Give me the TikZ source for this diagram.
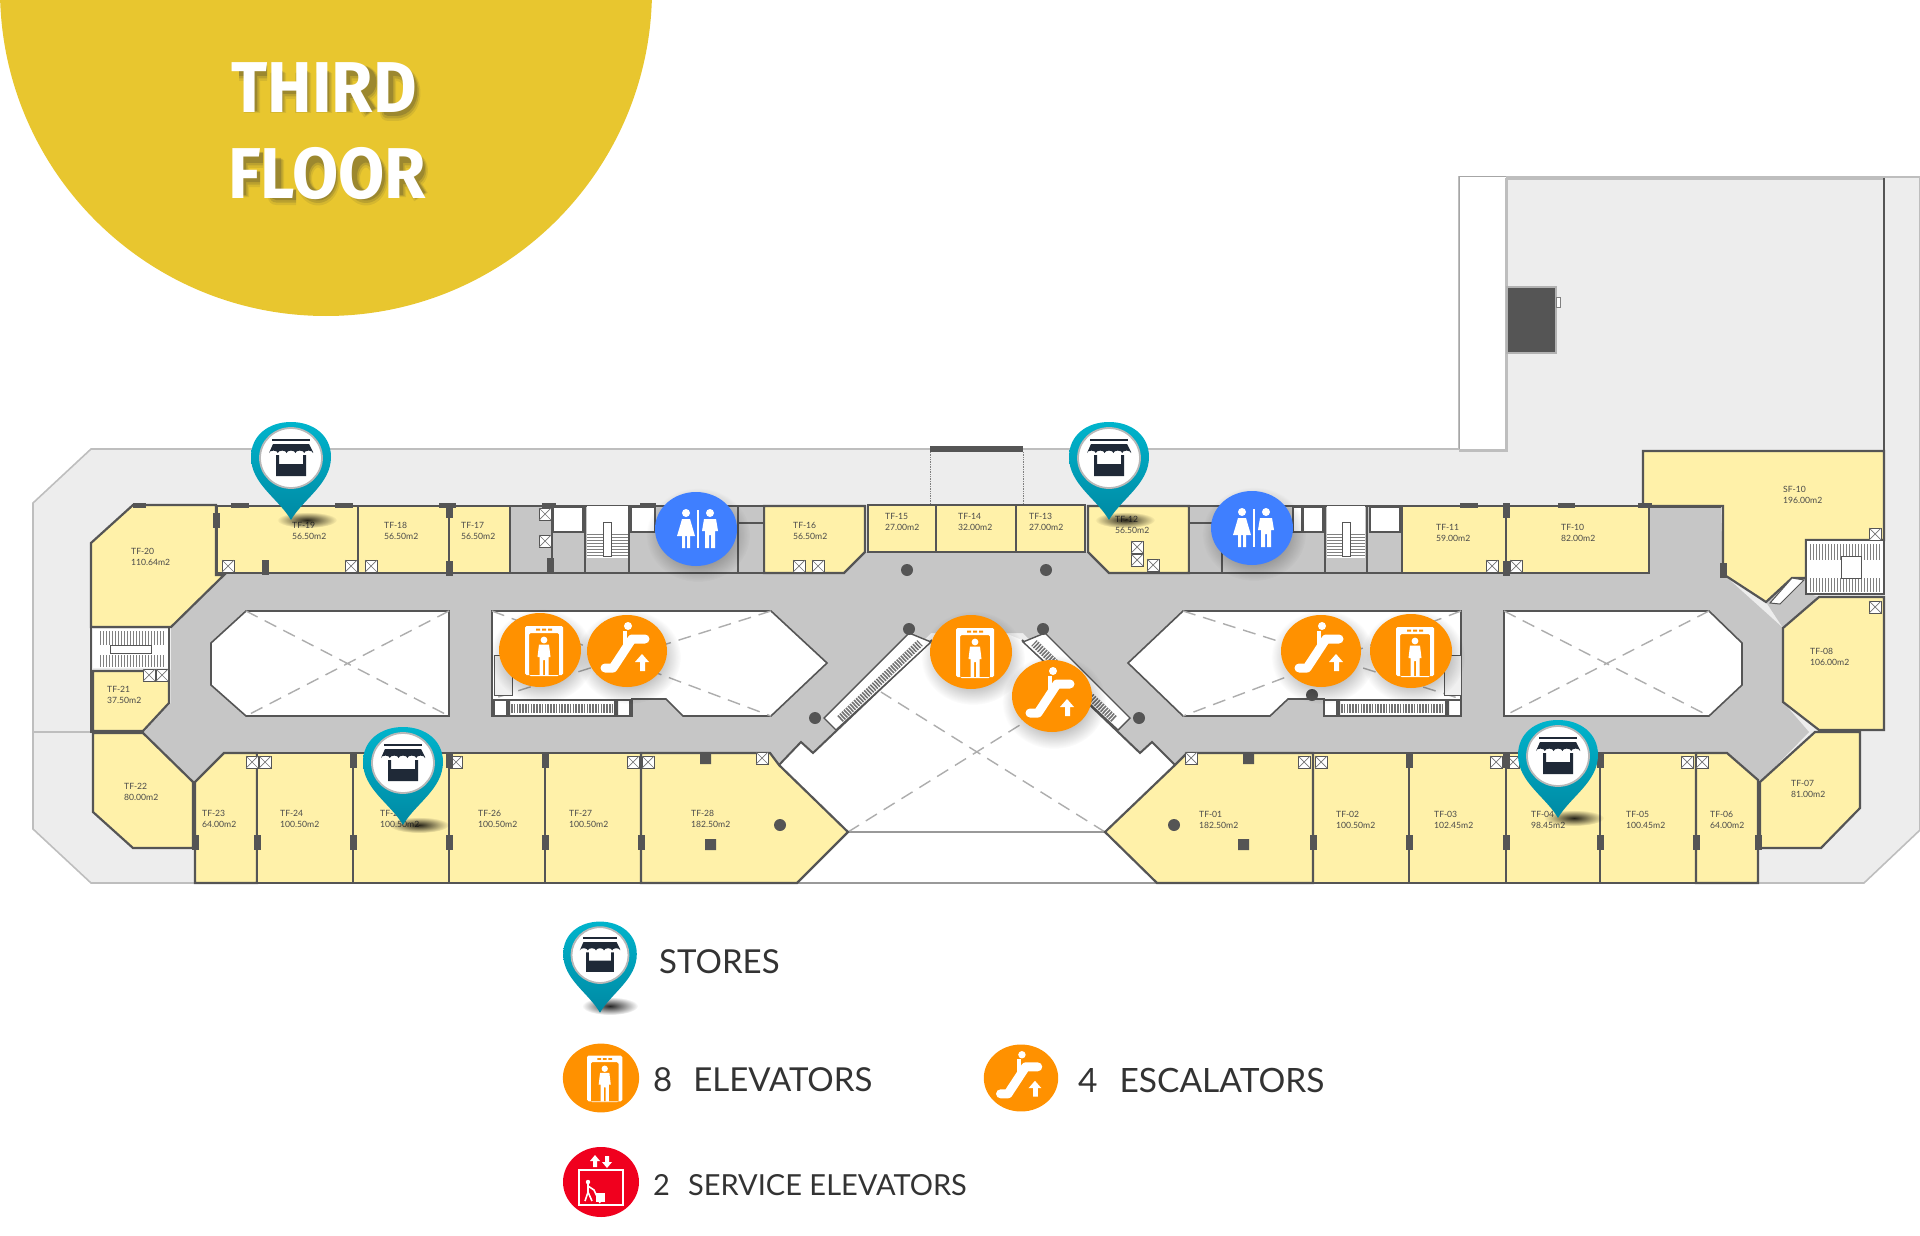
\documentclass[tikz,border=0pt]{standalone}
\usepackage{fontspec}
\setmainfont{Lato}
\newfontfamily\titlefont{Fira Sans}
\usetikzlibrary{calc, fadings}
\tikzfading[name=softfade, inner color=transparent!0, outer color=transparent!100]
\definecolor{plategrey}{HTML}{EDEDED}
\definecolor{plateline}{HTML}{BEBEBE}
\definecolor{mallgrey}{HTML}{C6C6C6}
\definecolor{wallgrey}{HTML}{555555}
\definecolor{shopyellow}{HTML}{FFF1A9}
\definecolor{discyellow}{HTML}{E8C62F}
\definecolor{iconorange}{HTML}{FF9100}
\definecolor{iconblue}{HTML}{3F7FFF}
\definecolor{iconred}{HTML}{F0001E}
\definecolor{pinteal}{HTML}{00B4CC}
\definecolor{pindeep}{HTML}{0089A3}
\definecolor{shopnavy}{HTML}{1F2937}
\definecolor{labelgrey}{HTML}{4A4A4A}
\definecolor{legendgrey}{HTML}{333333}
\tikzset{
  shop/.style={fill=shopyellow, draw=wallgrey, line width=2.2pt, line join=miter},
  mall/.style={fill=mallgrey},
  void/.style={fill=white, draw=wallgrey, line width=1.6pt},
  wall/.style={draw=wallgrey, line width=2pt},
  slab/.style={draw=black!32, line width=1.4pt, dash pattern=on 13pt off 8pt},
  roomlabel/.style={anchor=west, align=left, inner sep=0pt, text=labelgrey,
    font=\fontsize{8.6}{10.6}\selectfont},
  legendtext/.style={anchor=west, inner sep=0pt, text=legendgrey},
  titletext/.style={font=\titlefont\bfseries\fontsize{72}{72}\selectfont, text=white, inner sep=0pt,
    xscale=.93, transform shape},
  titleshade/.style={draw=black!80, line join=round, fill=none},
  softshadow/.style={black, opacity=.62, path fading=softfade},
  pics/shaftbox/.style={code={
    \draw[fill=white, draw=wallgrey, line width=1pt] (-6,-6) rectangle (6,6);
    \draw[black!55, line width=.7pt] (-6,-6) -- (6,6) (6,-6) -- (-6,6);
  }},
  pics/storepin/.style={code={
    \shade[top color=pinteal, bottom color=pindeep]
      (0,61) .. controls (-12,40) and (-40,25) .. (-40,-2)
      .. controls (-40,-24) and (-22,-37) .. (0,-37)
      .. controls (22,-37) and (40,-24) .. (40,-2)
      .. controls (40,25) and (12,40) .. (0,61) -- cycle;
    \fill[white, draw=black!28, line width=1.8pt] (0,-1) ellipse (31pt and 30pt);
    % awning and stall of the shop
    \fill[shopnavy] (-19,-20) rectangle (19,-18);
    \fill[shopnavy] (-18,-15) -- (18,-15) -- (22,-7) -- (22,-6)
      arc[start angle=0, end angle=180, x radius=4.4pt, y radius=2.4pt]
      arc[start angle=0, end angle=180, x radius=4.4pt, y radius=2.4pt]
      arc[start angle=0, end angle=180, x radius=4.4pt, y radius=2.4pt]
      arc[start angle=0, end angle=180, x radius=4.4pt, y radius=2.4pt]
      arc[start angle=0, end angle=180, x radius=4.4pt, y radius=2.4pt] -- cycle;
    \fill[shopnavy] (-15,-4) rectangle (-12,6) (12,-4) rectangle (15,6) (-15,5) rectangle (15,17);
  }},
  pics/gateicon/.style={code={
    \fill[iconorange] (0,0) ellipse (41pt and 37pt);
    \fill[white, even odd rule] [rounded corners=1.5pt] (-15,-24) rectangle (23,25) (-11,-17) rectangle (19,26);
    \fill[iconorange] (-4,-21.5) rectangle (0,-19.5) (2,-21.5) rectangle (6,-19.5) (8,-21.5) rectangle (12,-19.5);
    \fill[white] (4,-10) circle (3.4pt);
    \fill[white] (-1,-5.5) -- (9,-5.5) -- (10.5,7) -- (8.5,7) -- (8.5,25) -- (5,25) -- (5,10)
      -- (3,10) -- (3,25) -- (-.5,25) -- (-.5,7) -- (-2.5,7) -- cycle;
  }},
  pics/stairicon/.style={code={
    \fill[iconorange] (0,0) ellipse (40pt and 36pt);
    \draw[white, line width=9pt, line cap=round, line join=round] (-22,17) -- (-14,17) -- (5,-12) -- (18,-12);
    \draw[white, line width=4.5pt] (-2,-20) -- (-2,-4);
    \fill[white] (1,-25) circle (4pt);
    \fill[white] (15,3) -- (22,11) -- (18,11) -- (18,20) -- (13,20) -- (13,11) -- (8,11) -- cycle;
  }},
  pics/toileticon/.style={code={
    \fill[iconblue] (0,0) ellipse (41pt and 37pt);
    \fill[white] (0.8,-19) rectangle (3.2,19);
    % woman and man
    \fill[white] (-10,-16) circle (4pt) (14,-16) circle (4pt);
    \fill[white] (-14,-10) -- (-6,-10) -- (-4,-3) -- (-1,7) -- (-19,7) -- (-16,-3) -- cycle;
    \fill[white] (-14,7) rectangle (-11,19) (-9,7) rectangle (-6,19);
    \fill[white] (8,-10) -- (20,-10) -- (22,2) -- (19,2) -- (19,19) -- (15,19) -- (15,6) -- (13,6)
      -- (13,19) -- (9,19) -- (9,2) -- (6,2) -- cycle;
  }},
  pics/serviceicon/.style={code={
    \fill[iconred] (0,0) ellipse (38pt and 35pt);
    \draw[white, line width=1.3pt] (-22,-12) rectangle (22,23);
    \fill[white] (-6,-27) -- (-1,-21) -- (-4,-21) -- (-4,-15) -- (-8,-15) -- (-8,-21) -- (-11,-21) -- cycle;
    \fill[white] (6,-14) -- (1,-20) -- (4,-20) -- (4,-26) -- (8,-26) -- (8,-20) -- (11,-20) -- cycle;
    \fill[white] (-13,0) circle (2.2pt);
    \draw[white, line width=1.6pt] (-13,2) -- (-13,10) -- (-16,19) (-13,10) -- (-9,19) (-13,4) -- (-7,8) -- (-1,21);
    \fill[white] (-5,11) rectangle (4,20);
  }},
}
\begin{document}
\begin{tikzpicture}[x=1pt, y=-1pt]
    \useasboundingbox (0,0) rectangle (1920,1236);
    \clip (0,0) rectangle (1920,1236);
    \fill[discyellow] (326,-10) circle (326pt);
    % shadow of the title, stroked letter by letter
    \foreach \wd/\op/\dx/\dy in {16/.10/3/5, 13/.16/3/4, 10/.22/3/3} {
      \draw[titleshade, line width=\wd pt, opacity=\op, shift={(\dx,\dy)}]
        (236,68) -- (264,68) (249,68) -- (249,108)
        (275,68) -- (275,108) (300,68) -- (300,108) (275,86) -- (300,86)
        (321,68) -- (321,108)
        (342,108) -- (342,68) -- (358,68) .. controls (372,68) and (372,90) .. (358,90) -- (342,90) (356,90) -- (368,108)
        (385,108) -- (385,68) -- (393,68) .. controls (415,68) and (415,108) .. (393,108) -- cycle
        (238,192) -- (238,155) -- (260,155) (238,174) -- (257,174)
        (273,155) -- (273,192) -- (293,192)
        (315,173.5) ellipse (14pt and 19pt) (363,173.5) ellipse (14pt and 19pt)
        (395,192) -- (395,155) -- (408,155) .. controls (420,155) and (420,176) .. (408,176) -- (395,176) (408,176) -- (418,192);
    }
    \node[titletext] (third) at (324,88) {THIRD};
    \node[titletext] (floor) at (327,174) {FLOOR};

    % plate of the whole floor
    \draw[fill=plategrey, draw=plateline, line width=1.6pt] (33,503) -- (91,449) -- (1459,449) -- (1459,177)
      -- (1920,177) -- (1920,830) -- (1864,883) -- (91,883) -- (33,829) -- cycle;
    \draw[fill=white, draw=black!35, line width=1pt] (1459,177) rectangle (1506,450);
    \draw[plateline, line width=3pt] (1506,178) -- (1506,450) -- (1459,450);
    \draw[plateline, line width=3pt] (1506,178) -- (1884,178);
    \draw[plateline, line width=1.6pt] (33,732) -- (91,732);
    \draw[fill=wallgrey, draw=black!30, line width=1.4pt] (1507,287) rectangle (1556,353);
    \draw[fill=white, draw=black!50, line width=.8pt] (1556,297) rectangle (1560,307);
    \draw[wall, line width=2.6pt] (1884,178) -- (1884,450);
    % entrance
    \fill[wallgrey] (930,446) rectangle (1023,452);
    \draw[black!50, densely dotted, line width=.7pt] (930,452) -- (930,505) (1023,452) -- (1023,505);

    % mall corridor
    \fill[mall] (227,573) -- (844,573) -- (866,552) -- (1086,552) -- (1109,573) -- (1649,573) -- (1649,507)
      -- (1721,507) -- (1723,574) -- (1783,628) -- (1783,702) -- (1809,732) -- (1760,782) -- (1727,753)
      -- (1187,753) -- (1175,765) -- (1152,742) -- (1140,753) -- (1023,633) -- (931,633) -- (813,753)
      -- (801,742) -- (779,765) -- (770,753) -- (224,753) -- (193,782) -- (143,733) -- (171,703)
      -- (171,627) -- cycle;
    \fill[mall] (1766,602) -- (1792,578) -- (1806,578) -- (1806,593) -- (1819,597) -- (1783,628) -- cycle;
    \draw[wall] (1649,573) -- (1649,507) -- (1721,507);

    % atria
    \draw[void] (246,611) -- (449,611) -- (449,716) -- (246,716) -- (211,685) -- (211,643) -- cycle;
    \draw[void] (492,611) -- (771,611) -- (827,663) -- (771,716) -- (683,716) -- (666,699) -- (632,699)
      -- (632,716) -- (492,716) -- cycle;
    \draw[void] (1183,611) -- (1461,611) -- (1461,716) -- (1324,716) -- (1324,699) -- (1288,699) -- (1270,716)
      -- (1183,716) -- (1128,663) -- cycle;
    \draw[void] (1504,611) -- (1709,611) -- (1742,643) -- (1742,685) -- (1709,716) -- (1504,716) -- cycle;
    \draw[slab] (246,611) -- (449,716) (449,611) -- (246,716);
    \draw[slab] (492,611) -- (771,716) (771,611) -- (492,699);
    \draw[slab] (1183,611) -- (1461,699) (1461,611) -- (1183,716);
    \draw[slab] (1504,611) -- (1709,716) (1709,611) -- (1504,716);
    % central atrium
    \path[fill=white] (848,832) -- (779,765) -- (801,742) -- (813,753) -- (932,640) -- (1005,633) -- (1022,640)
      -- (1140,753) -- (1152,742) -- (1175,765) -- (1105,832) -- (1157,883) -- (797,883) -- cycle;
    \draw[wall] (779,765) -- (801,742) -- (813,753) -- (932,640);
    \draw[wall] (1175,765) -- (1152,742) -- (1140,753) -- (1022,640);
    \draw[black!40, line width=1.4pt] (848,832) -- (1105,832);
    \draw[black!40, line width=1.4pt] (797,883) -- (1157,883);
    \draw[slab] (848,832) -- (1073,692) (1105,832) -- (881,692);

    % escalators
    \foreach \xa/\xb/\xc/\xd in {909/931/836/824, 1045/1023/1118/1130} {
      \draw[fill=white, draw=wallgrey, line width=1.4pt] (\xa,633) -- (\xb,642) -- (\xc,730) -- (\xd,718) -- cycle;
    }
    \draw[black!55, line width=8pt, dash pattern=on 1.6pt off 1.2pt] (840,719) -- (920,643);
    \draw[black!55, line width=8pt, dash pattern=on 1.6pt off 1.2pt] (1114,719) -- (1034,643);
    \foreach \xa/\xb in {494/630, 1324/1461} {
      \draw[fill=white, draw=wallgrey, line width=1.6pt] (\xa,700) rectangle (\xb,716);
      \draw[black!55, line width=9pt, dash pattern=on 1.6pt off 1.2pt] (\xa+17,708) -- (\xb-17,708);
      \fill[wallgrey] (\xa+12,701) rectangle (\xa+16,715) (\xb-16,701) rectangle (\xb-12,715);
    }
    % lifts seen in the openings
    \draw[fill=black!6, draw=wallgrey, line width=1pt] (494,655) rectangle (512,695);
    \draw[fill=black!6, draw=wallgrey, line width=1pt] (1444,655) rectangle (1461,695);

    % shops, north side
    \draw[shop] (133,505) -- (216,505) -- (216,575) -- (224,575) -- (171,627) -- (91,627) -- (91,543) -- cycle;
    \foreach \xa/\xb in {217/358, 358/449, 449/510} {
      \draw[shop] (\xa,506) rectangle (\xb,573);
    }
    \draw[shop] (764,506) -- (865,506) -- (865,552) -- (844,573) -- (764,573) -- cycle;
    \foreach \xa/\xb in {868/936, 936/1016, 1016/1085} {
      \draw[shop] (\xa,505) rectangle (\xb,552);
    }
    \draw[shop] (1088,506) -- (1189,506) -- (1189,573) -- (1109,573) -- (1088,552) -- cycle;
    \foreach \xa/\xb in {1402/1506, 1506/1649} {
      \draw[shop] (\xa,506) rectangle (\xb,573);
    }
    \draw[shop] (1643,451) -- (1884,451) -- (1884,540) -- (1806,540) -- (1806,578) -- (1792,578) -- (1766,602)
      -- (1723,574) -- (1723,506) -- (1643,506) -- cycle;
    \draw[shop] (1783,628) -- (1819,597) -- (1884,597) -- (1884,730) -- (1819,730) -- (1783,702) -- cycle;
    % shops, west and east ends
    \draw[shop] (93,671) -- (169,671) -- (169,703) -- (143,731) -- (93,731) -- cycle;
    \draw[shop] (93,733) -- (143,733) -- (193,782) -- (193,848) -- (133,848) -- (93,812) -- cycle;
    \draw[shop] (1815,732) -- (1860,732) -- (1860,808) -- (1821,848) -- (1760,848) -- (1760,782) -- cycle;
    % shops, south side
    \draw[shop] (195,782) -- (224,753) -- (257,753) -- (257,883) -- (195,883) -- cycle;
    \foreach \xa/\xb in {257/353, 353/449, 449/545, 545/641, 1313/1409, 1409/1506, 1506/1600, 1600/1696} {
      \draw[shop] (\xa,753) rectangle (\xb,883);
    }
    \draw[shop] (641,753) -- (770,753) -- (779,765) -- (848,832) -- (797,883) -- (641,883) -- cycle;
    \draw[shop] (1175,765) -- (1187,753) -- (1313,753) -- (1313,883) -- (1157,883) -- (1105,832) -- cycle;
    \draw[shop] (1696,753) -- (1727,753) -- (1758,780) -- (1758,883) -- (1696,883) -- cycle;

    % service cores
    \draw[fill=mallgrey, draw=wallgrey, line width=2pt] (510,506) rectangle (764,573);
    \draw[fill=mallgrey, draw=wallgrey, line width=2pt] (1189,506) rectangle (1402,573);
    \foreach \xa/\xb in {553/583, 631/655, 1303/1323, 1370/1400, 1293/1302} {
      \draw[fill=white, draw=wallgrey, line width=1.2pt] (\xa,507) rectangle (\xb,532);
    }
    \foreach \xa/\xb/\xc in {587/628/607, 1327/1365/1346} {
      \fill[white] (\xa,506) rectangle (\xb,558);
      \foreach \y in {534,537,...,556} {
        \draw[black!50, line width=.6pt] (\xa,\y) -- (\xb,\y);
      }
      \draw[fill=white, draw=wallgrey, line width=.9pt] (\xc-4,522) rectangle (\xc+4,556);
    }
    \draw[wall] (552,506) -- (552,573) (585,506) -- (585,573) (629,506) -- (629,573) (738,506) -- (738,573) (738,523) -- (764,523);
    \draw[wall] (1325,506) -- (1325,573) (1367,506) -- (1367,573) (1222,506) -- (1222,573) (1189,523) -- (1212,523);
    % stair blocks at both ends
    \fill[white] (93,629) rectangle (169,668);
    \foreach \x in {100,103,...,165} {
      \draw[black!50, line width=.6pt] (\x,631) -- (\x,645) (\x,655) -- (\x,667);
    }
    \draw[fill=white, draw=wallgrey, line width=1pt] (110,645) rectangle (151,653);
    \draw[wall] (91,627) -- (91,733) (169,627) -- (169,671);
    \fill[white] (1806,540) rectangle (1884,594);
    \foreach \x in {1810,1813,...,1880} {
      \draw[black!50, line width=.6pt] (\x,544) -- (\x,560) (\x,578) -- (\x,592);
    }
    \draw[fill=white, draw=wallgrey, line width=1pt] (1841,556) rectangle (1861,578);
    \draw[wall] (1806,540) rectangle (1884,594);
    \draw[fill=white, draw=wallgrey, line width=1pt] (1770,603) -- (1792,578) -- (1804,580) -- (1780,604) -- cycle;

    % shafts and piers
    \foreach \x/\y in {228/566, 351/566, 371/566, 149/675, 162/675, 252/762, 265/762, 456/762, 633/762, 648/762,
      762/758, 799/566, 818/566, 1153/565, 1492/566, 1516/566, 1875/534, 1304/762, 1321/762, 1191/758,
      1496/762, 1513/762, 1687/762, 1702/762, 545/514, 545/541, 1137/560, 1137/547, 1875/607} {
      \pic at (\x,\y) {shaftbox};
    }
    \foreach \x/\y in {257/842, 353/842, 449/842, 545/842, 1313/842, 1409/842, 1506/842, 1600/842, 1696/842, 1758/842,
      195/842, 641/842, 449/510, 449/568, 265/567, 1506/510, 1506/568, 216/520, 1723/570, 353/760,
      449/760, 545/760, 1409/760, 1506/760, 1600/760, 550/565} {
      \fill[wallgrey] (\x-3.5,\y-7.5) rectangle (\x+3.5,\y+7.5);
    }
    % thicker lengths of the outer wall
    \foreach \xa/\xb in {133/146, 231/249, 335/353, 439/456, 542/556, 640/656, 1235/1250, 1460/1478, 1558/1575, 1638/1652} {
      \fill[wallgrey] (\xa,503) rectangle (\xb,508);
    }
    % columns
    \foreach \x/\y in {907/570, 1046/570, 909/629, 1043/629, 815/718, 1139/718, 1312/695} {
      \fill[wallgrey] (\x,\y) circle (6pt);
    }
    \fill[wallgrey] (780,825) circle (6pt) (1174,825) circle (6pt);
    \fill[wallgrey] (705,839) rectangle (716,850) (1238,839) rectangle (1249,850);
    \fill[wallgrey] (700,753) rectangle (711,764) (1243,753) rectangle (1254,764);

    % room labels
    \foreach \tag/\x/\y/\size in {TF-20/131/557/110.64, TF-19/292/531/56.50, TF-18/384/531/56.50, TF-17/461/531/56.50,
      TF-21/107/695/37.50, TF-22/124/792/80.00, TF-23/202/819/64.00, TF-24/280/819/100.50, TF-25/380/819/100.50,
      TF-26/478/819/100.50, TF-27/569/819/100.50, TF-28/691/819/182.50, TF-16/793/531/56.50, TF-15/885/522/27.00,
      TF-14/958/522/32.00, TF-13/1029/522/27.00, TF-12/1115/525/56.50, TF-11/1436/533/59.00, TF-10/1561/533/82.00,
      SF-10/1783/495/196.00, TF-08/1810/657/106.00, TF-07/1791/789/81.00, TF-01/1199/820/182.50, TF-02/1336/820/100.50,
      TF-03/1434/820/102.45, TF-04/1531/820/98.45, TF-05/1626/820/100.45, TF-06/1710/820/64.00} {
      \node[roomlabel] (\tag) at (\x,\y) {\tag\\\size m2};
    }

    % icons on the plan
    \foreach \x/\y in {540/650, 627/651, 971/652, 1052/696, 1321/651, 1411/651, 696/529, 1252/528} {
      \fill[softshadow] (\x+2,\y+6) ellipse (52pt and 47pt);
    }
    \pic (gateA) at (540,650) {gateicon};
    \pic (stairA) at (627,651) {stairicon};
    \pic (gateB) at (971,652) {gateicon};
    \pic (stairB) at (1052,696) {stairicon};
    \pic (stairC) at (1321,651) {stairicon};
    \pic (gateC) at (1411,651) {gateicon};
    \pic (toiletA) at (696,529) {toileticon};
    \pic (toiletB) at (1252,528) {toileticon};
    \foreach \x/\y in {291/520, 403/825, 1109/520, 1558/818} {
      \fill[softshadow, opacity=.85] (\x+16,\y) ellipse (30pt and 8pt);
    }
    \pic (pinA) at (291,459) {storepin};
    \pic (pinB) at (403,764) {storepin};
    \pic (pinC) at (1109,459) {storepin};
    \pic (pinD) at (1558,757) {storepin};

    % legend
    \fill[softshadow, opacity=.85] (610,1006) ellipse (28pt and 9pt);
    \pic[xscale=.92, yscale=.93] (pinKey) at (600,956) {storepin};
    \pic[scale=.93] (gateKey) at (601,1078) {gateicon};
    \pic[scale=.93] (stairKey) at (1021,1078) {stairicon};
    \pic (serviceKey) at (601,1182) {serviceicon};
    \node[legendtext, font=\fontsize{33}{33}\selectfont] (stores) at (659,962) {STORES};
    \node[legendtext, font=\fontsize{33}{33}\selectfont] (gateText) at (653,1080) {8\hspace{21pt}ELEVATORS};
    \node[legendtext, font=\fontsize{33.5}{33.5}\selectfont] (stairText) at (1078,1080) {4\hspace{22pt}ESCALATORS};
    \node[legendtext, font=\fontsize{29}{29}\selectfont] (serviceText) at (653,1185) {2\hspace{18pt}SERVICE ELEVATORS};
\end{tikzpicture}
\end{document}
